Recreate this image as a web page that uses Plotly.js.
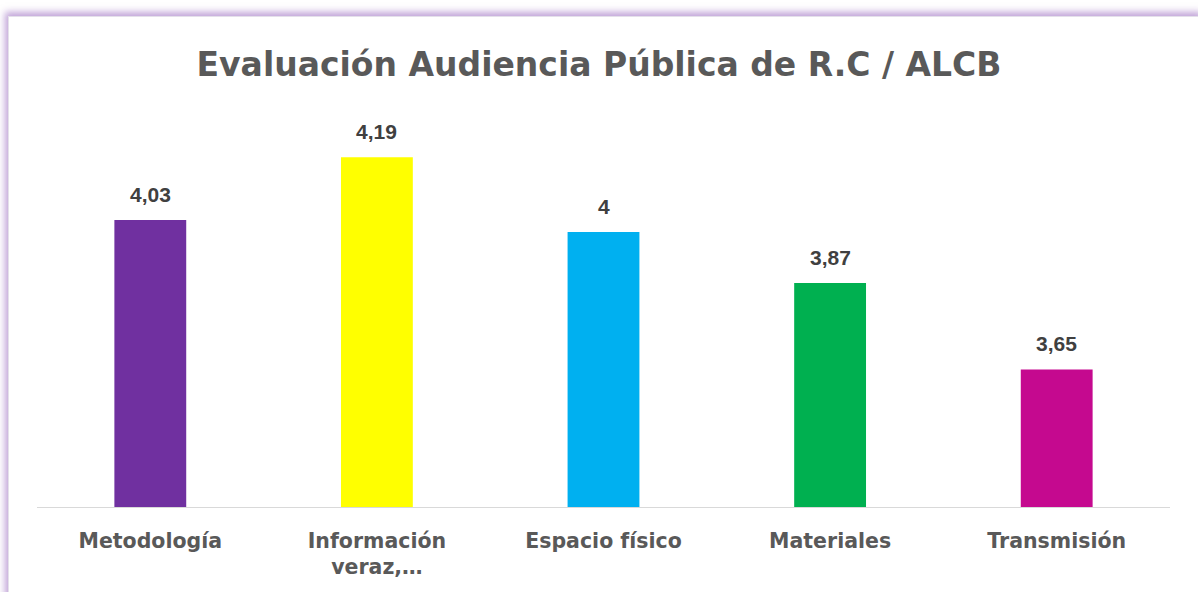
<!DOCTYPE html>
<html>
<head>
<meta charset="utf-8">
<script src="https://cdn.plot.ly/plotly-3.0.1.min.js"></script>
<style>
  html, body { margin: 0; padding: 0; background: #ffffff; width: 1198px; height: 592px; overflow: hidden; }
  #frame {
    position: absolute; left: 8px; top: 16px; width: 1195px; height: 600px;
    background: #ffffff; border: 1px solid #e4e0ea;
    box-shadow: -3px -4px 7px rgba(160, 115, 195, 0.65);
  }
  #chart { position: absolute; left: 0; top: 0; width: 1198px; height: 592px; }
</style>
</head>
<body>
<div id="frame"></div>
<div id="chart"></div>
<script>
const categories = ["Metodología", "Información<br>veraz,…", "Espacio físico", "Materiales", "Transmisión"];
const values = [4.03, 4.19, 4, 3.87, 3.65];
const barColors = ["#7030A0", "#FFFF00", "#00B0F0", "#00B050", "#C5098F"];
const titleText = "Evaluación Audiencia Pública de R.C / ALCB";

const labels = values.map(v => String(v).replace(".", ","));

const trace = {
  type: "bar",
  x: categories,
  y: values,
  marker: { color: barColors, line: { width: 0 } },
  hoverinfo: "none",
  cliponaxis: false
};

const annotations = categories.map((c, i) => ({
  x: c, y: values[i], xref: "x", yref: "y",
  text: labels[i], showarrow: false,
  yanchor: "bottom", yshift: 12,
  font: { family: "Liberation Sans, Arial, sans-serif", size: 21, color: "#404040", weight: "bold" }
}));

const layout = {
  width: 1198, height: 592,
  paper_bgcolor: "rgba(0,0,0,0)",
  plot_bgcolor: "rgba(0,0,0,0)",
  margin: { l: 37, r: 28, t: 114, b: 85 },
  bargap: 0.683,
  showlegend: false,
  title: {
    text: "<b>" + titleText + "</b>",
    x: 0.5, xanchor: "center",
    y: 1 - 64 / 592, yanchor: "middle", yref: "container",
    font: { family: "DejaVu Sans, sans-serif", size: 33, color: "#595959" }
  },
  xaxis: {
    type: "category",
    showline: true, linecolor: "#d9d9d9", linewidth: 1,
    showgrid: false, zeroline: false, ticks: "",
    ticklabelstandoff: 15,
    tickfont: { family: "DejaVu Sans, sans-serif", size: 20.5, color: "#595959", weight: "bold" }
  },
  yaxis: {
    range: [3.3, 4.3],
    visible: false, showgrid: false, zeroline: false, fixedrange: true
  },
  annotations: annotations
};

Plotly.newPlot("chart", [trace], layout, { displayModeBar: false, staticPlot: true });
</script>
</body>
</html>
